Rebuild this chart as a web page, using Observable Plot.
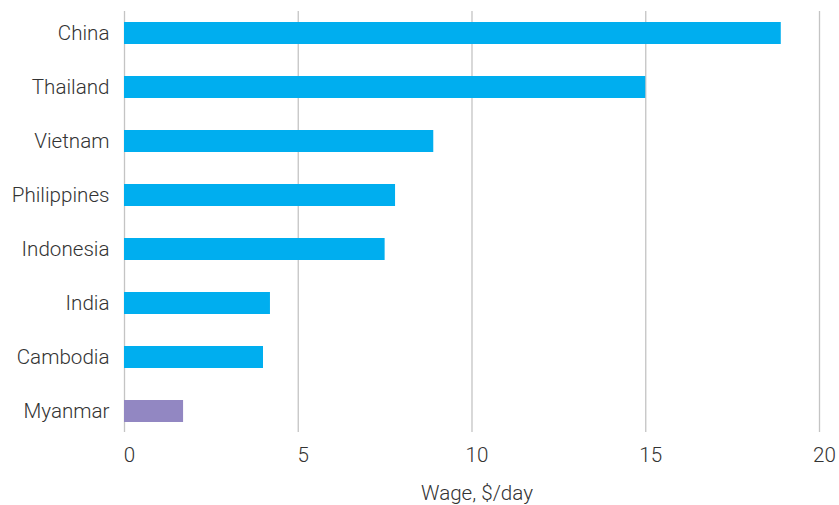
<!DOCTYPE html>
<html>
<head>
<meta charset="utf-8">
<script src="https://cdn.jsdelivr.net/npm/d3@7"></script>
<script src="https://cdn.jsdelivr.net/npm/@observablehq/plot@0.6"></script>
<style>
  html, body { margin: 0; padding: 0; background: #fff; }
  #chart svg { display: block; }
</style>
</head>
<body>
<div id="chart"></div>
<script>
const countries = ["China", "Thailand", "Vietnam", "Philippines", "Indonesia", "India", "Cambodia", "Myanmar"];
const wages = [18.9, 15.0, 8.9, 7.8, 7.5, 4.2, 4.0, 1.7];
const xTicks = [0, 5, 10, 15, 20];
const xLabel = "Wage, $/day";
const highlighted = "Myanmar";

const data = countries.map((c, i) => ({country: c, wage: wages[i]}));
const BLUE = "#00AEEF";
const PURPLE = "#9287C2";
const FONT = "Roboto, 'Liberation Sans', sans-serif";
const FS = 20.6;

const chart = Plot.plot({
  width: 839,
  height: 505,
  marginLeft: 124,
  marginRight: 20,
  marginTop: 11,
  marginBottom: 73,
  style: {fontFamily: FONT, fontSize: FS + "px", fontWeight: 300, color: "#333", background: "#fff"},
  x: {domain: [0, 20], ticks: xTicks, label: null},
  y: {domain: countries, paddingInner: 0.594, paddingOuter: 0.185, label: null},
  marks: [
    Plot.ruleX(xTicks, {x: d => d, stroke: "#c4c4c4", strokeWidth: 1.3}),
    Plot.barX(data, {x: "wage", y: "country", fill: d => d.country === highlighted ? PURPLE : BLUE}),
    Plot.axisX({ticks: xTicks, tickSize: 0, tickPadding: 15, dx: 5, fontSize: FS, fill: "#333", label: null}),
    Plot.axisY({tickSize: 0, tickPadding: 15, fontSize: FS, fill: "#333", label: null}),
    Plot.text([xLabel], {frameAnchor: "bottom", dy: 61, dx: 5, lineAnchor: "middle", fontSize: FS, fill: "#333"})
  ]
});
document.getElementById("chart").appendChild(chart);
</script>
</body>
</html>
